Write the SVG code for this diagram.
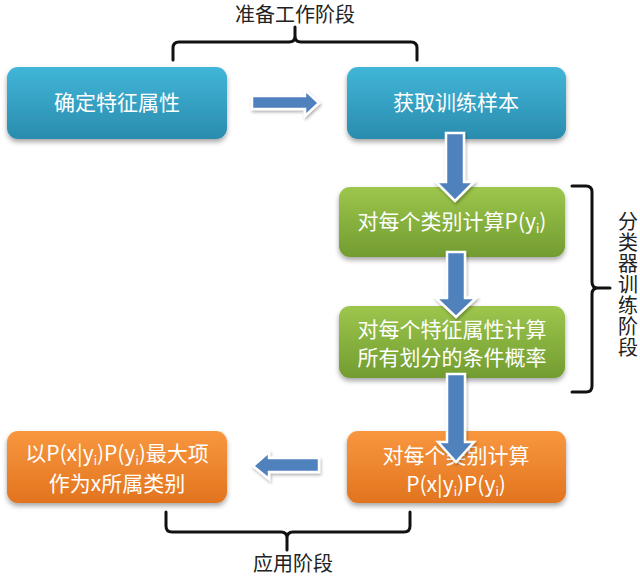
<svg xmlns="http://www.w3.org/2000/svg" width="640" height="576" viewBox="0 0 640 576">
<defs>
<linearGradient id="gBlue" x1="0" y1="0" x2="0" y2="1"><stop offset="0" stop-color="#41b6d8"/><stop offset="1" stop-color="#2a8cae"/></linearGradient>
<linearGradient id="gGreen" x1="0" y1="0" x2="0" y2="1"><stop offset="0" stop-color="#9cc64c"/><stop offset="1" stop-color="#729c30"/></linearGradient>
<linearGradient id="gOrange" x1="0" y1="0" x2="0" y2="1"><stop offset="0" stop-color="#f8973f"/><stop offset="1" stop-color="#e2741f"/></linearGradient>
<filter id="sh" x="-10%" y="-10%" width="120%" height="130%"><feDropShadow dx="0" dy="3" stdDeviation="2.5" flood-color="#000" flood-opacity="0.35"/></filter>
<filter id="ash" x="-20%" y="-20%" width="140%" height="140%"><feDropShadow dx="1" dy="2" stdDeviation="1.5" flood-color="#000" flood-opacity="0.3"/></filter>
</defs>
<style>
.box{filter:url(#sh)}
.lbl{font-family:"Noto Sans CJK SC","Liberation Sans",sans-serif;font-size:21px;fill:#fff;text-anchor:middle}
.cap{font-family:"Noto Sans CJK SC","Liberation Sans",sans-serif;font-size:20px;fill:#222;text-anchor:middle}
.vcap{font-family:"Noto Sans CJK SC","Liberation Sans",sans-serif;font-size:20px;fill:#222;writing-mode:vertical-rl;letter-spacing:1px}
.arr{fill:#4f81bd;stroke:#fff;stroke-width:2.5;stroke-linejoin:miter;filter:url(#ash)}
.brace{fill:none;stroke:#111;stroke-width:3;stroke-linejoin:round;stroke-linecap:round}
.sub{font-size:12px}
</style>
<g id="n1"><rect class="box" x="7" y="67" width="220" height="72" rx="11" fill="url(#gBlue)"/><text class="lbl" x="117" y="110">确定特征属性</text></g>
<g id="n2"><rect class="box" x="347" y="67" width="219" height="72" rx="11" fill="url(#gBlue)"/><text class="lbl" x="456" y="110">获取训练样本</text></g>
<g id="n3"><rect class="box" x="339" y="187" width="226" height="70" rx="11" fill="url(#gGreen)"/><text class="lbl" x="452" y="229">对每个类别计算P(y<tspan class="sub" dy="4">i</tspan><tspan dy="-4">)</tspan></text></g>
<g id="n4"><rect class="box" x="339" y="306" width="226" height="72" rx="11" fill="url(#gGreen)"/><text class="lbl" x="452" y="337">对每个特征属性计算</text><text class="lbl" x="452" y="365">所有划分的条件概率</text></g>
<g id="n5"><rect class="box" x="347" y="431" width="219" height="72" rx="11" fill="url(#gOrange)"/><text class="lbl" x="456" y="463">对每个类别计算</text><text class="lbl" x="456" y="492">P(x|y<tspan class="sub" dy="4">i</tspan><tspan dy="-4">)P(y</tspan><tspan class="sub" dy="4">i</tspan><tspan dy="-4">)</tspan></text></g>
<g id="n6"><rect class="box" x="7" y="431" width="220" height="72" rx="11" fill="url(#gOrange)"/><text class="lbl" x="117" y="461">以P(x|y<tspan class="sub" dy="4">i</tspan><tspan dy="-4">)P(y</tspan><tspan class="sub" dy="4">i</tspan><tspan dy="-4">)最大项</tspan></text><text class="lbl" x="117" y="491">作为x所属类别</text></g>
<g id="connectors">
<polygon class="arr" points="252,96 305,96 305,90 319,103 305,116 305,109 252,109"/>
<polygon class="arr" points="446,133 464,133 464,182 474,182 455,201 436,182 446,182"/>
<polygon class="arr" points="447,252 465,252 465,298 476,298 456,317 436,298 447,298"/>
<polygon class="arr" points="447,374 465,374 465,442 474,442 456,462 438,442 447,442"/>
<polygon class="arr" points="319,458 269,458 269,452 253,466 269,479 269,472 319,472"/>
</g>
<g id="brace-top"><path class="brace" d="M173,60 V48 Q173,42 179,42 H289 Q295,42 295,36 V27 V36 Q295,42 301,42 H411 Q417,42 417,48 V60"/><text class="cap" x="295" y="22">准备工作阶段</text></g>
<g id="brace-right"><path class="brace" d="M572,186 H586 Q592,186 592,192 V282 Q592,288 598,288 H610 H598 Q592,288 592,294 V386 Q592,392 586,392 H572"/>
<text class="vcap" x="628" y="211">分类器训练阶段</text></g>
<g id="brace-bottom"><path class="brace" d="M166,512 V526 Q166,532 172,532 H281 Q287,532 287,538 V550 V538 Q287,532 293,532 H404 Q410,532 410,526 V512"/><text class="cap" x="293" y="571">应用阶段</text></g>
</svg>
